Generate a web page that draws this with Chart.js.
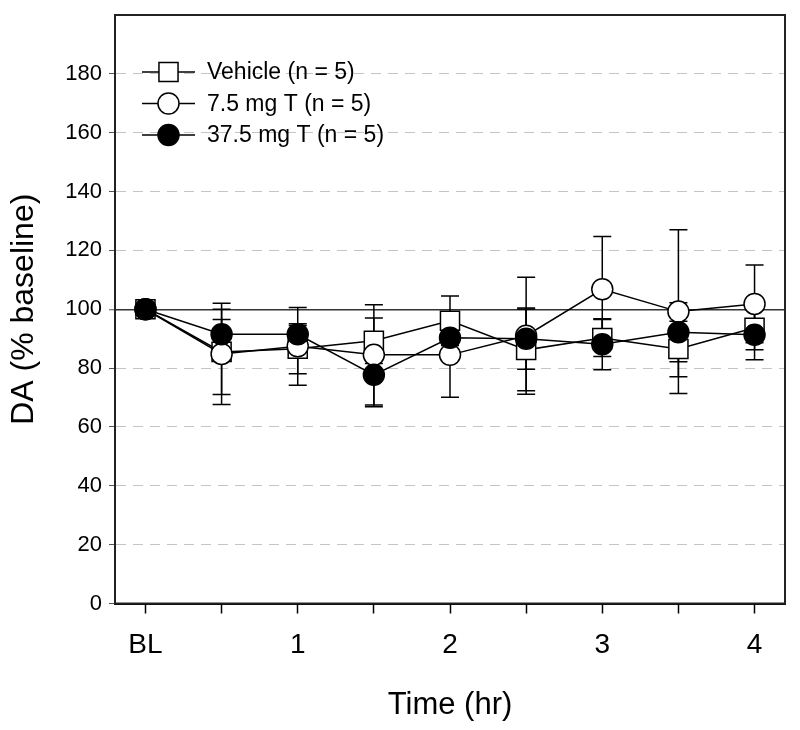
<!DOCTYPE html>
<html>
<head>
<meta charset="utf-8">
<script src="https://cdn.jsdelivr.net/npm/chart.js@4/dist/chart.umd.min.js"></script>
<style>
  html, body { margin: 0; padding: 0; background: #fff; }
</style>
</head>
<body>
<canvas id="chart" width="800" height="730"></canvas>
<script>
// half-hour steps, 0 = baseline
var times = [0, 1, 2, 3, 4, 5, 6, 7, 8];
var xTickVals = [0, 1, 2, 3, 4, 5, 6, 7, 8];
var xTickLabels = ['BL', '', '1', '', '2', '', '3', '', '4'];
var yTickVals = [0, 20, 40, 60, 80, 100, 120, 140, 160, 180, 200];
var yTickLabels = ['0', '20', '40', '60', '80', '100', '120', '140', '160', '180', ''];

var seriesNames = ['Vehicle (n = 5)', '7.5 mg T (n = 5)', '37.5 mg T (n = 5)'];
var vehicle = [100, 85.5, 86.6, 89.3, 96.1, 86.2, 90.2, 86.5, 93.7];
var vehicleSem = [0, 14.5, 8.5, 7.7, 8.4, 13.9, 6.3, 9.4, 7.5];
var lowDose = [100, 84.8, 87.4, 84.5, 84.5, 91, 106.8, 99.2, 101.8];
var lowDoseSem = [0, 17.2, 13.2, 17, 14.4, 19.9, 17.9, 27.8, 13.2];
var highDose = [100, 91.5, 91.5, 77.7, 90.3, 90, 88.1, 92.2, 91.3];
var highDoseSem = [0, 5, 3, 10.8, 5, 10.4, 8.7, 10, 8.5];

var FONT = "'Liberation Sans', Arial, sans-serif";
var sems = [vehicleSem, lowDoseSem, highDoseSem];

function pts(arr) {
  return arr.map(function(v, i) { return {x: times[i], y: v}; });
}

var styles = [
  {pointStyle: 'rect', radius: 13.5, fill: '#fff'},
  {pointStyle: 'circle', radius: 10.5, fill: '#fff'},
  {pointStyle: 'circle', radius: 10.5, fill: '#000'}
];

function makeSet(i, data, order) {
  return {
    label: seriesNames[i],
    data: pts(data),
    borderColor: '#000',
    borderWidth: 1.5,
    pointStyle: styles[i].pointStyle,
    pointRadius: styles[i].radius,
    pointHoverRadius: styles[i].radius,
    pointBackgroundColor: styles[i].fill,
    pointBorderColor: '#000',
    pointBorderWidth: 1.5,
    fill: false,
    tension: 0,
    order: order
  };
}

var errorBars = {
  id: 'errorBars',
  beforeDatasetsDraw: function(chart) {
    var ctx = chart.ctx;
    var xs = chart.scales.x, ys = chart.scales.y;
    ctx.save();
    ctx.strokeStyle = '#000';
    ctx.lineWidth = 1.5;
    chart.data.datasets.forEach(function(ds, d) {
      ds.data.forEach(function(p, i) {
        var s = sems[d][i];
        if (!s) return;
        var px = xs.getPixelForValue(p.x);
        var top = ys.getPixelForValue(p.y + s);
        var bot = ys.getPixelForValue(p.y - s);
        ctx.beginPath();
        ctx.moveTo(px, top); ctx.lineTo(px, bot);
        ctx.moveTo(px - 9, top); ctx.lineTo(px + 9, top);
        ctx.moveTo(px - 9, bot); ctx.lineTo(px + 9, bot);
        ctx.stroke();
      });
    });
    ctx.restore();
  }
};

var frameAndLegend = {
  id: 'frameAndLegend',
  afterDraw: function(chart) {
    var ctx = chart.ctx, a = chart.chartArea;
    ctx.save();
    ctx.strokeStyle = '#222';
    ctx.lineWidth = 2;
    ctx.strokeRect(a.left, a.top, a.right - a.left, a.bottom - a.top);

    // legend in the upper left of the plot
    var rows = [72, 103.5, 135];
    ctx.font = '23px ' + FONT;
    ctx.textBaseline = 'middle';
    ctx.textAlign = 'left';
    seriesNames.forEach(function(name, i) {
      var y = rows[i];
      ctx.strokeStyle = '#000';
      ctx.lineWidth = 1.5;
      ctx.beginPath();
      ctx.moveTo(142, y); ctx.lineTo(195, y);
      ctx.stroke();
      ctx.fillStyle = styles[i].fill;
      Chart.helpers.drawPoint(ctx, {
        pointStyle: styles[i].pointStyle,
        radius: styles[i].radius,
        rotation: 0,
        borderWidth: 1.5
      }, 168.5, y);
      ctx.fillStyle = '#000';
      ctx.fillText(name, 207, y + 1);
    });
    ctx.restore();
  }
};

function yVal(c) { return c.tick ? c.tick.value : null; }

new Chart(document.getElementById('chart'), {
  type: 'line',
  data: {
    datasets: [
      makeSet(0, vehicle, 3),
      makeSet(1, lowDose, 2),
      makeSet(2, highDose, 1)
    ]
  },
  options: {
    responsive: false,
    animation: false,
    layout: { padding: { top: 15, right: 13, left: 0, bottom: 0 } },
    plugins: {
      legend: { display: false },
      tooltip: { enabled: false }
    },
    scales: {
      x: {
        type: 'linear',
        min: -0.4,
        max: 8.4,
        afterBuildTicks: function(s) {
          s.ticks = xTickVals.map(function(v) { return {value: v}; });
        },
        afterFit: function(s) {
          s.height = 126.5;
          s.paddingLeft = 0; s.paddingRight = 0;
        },
        ticks: {
          autoSkip: false,
          maxRotation: 0,
          padding: 15,
          color: '#000',
          font: { family: FONT, size: 28 },
          callback: function(v, i) { return xTickLabels[i]; }
        },
        grid: {
          drawOnChartArea: false,
          drawTicks: true,
          tickLength: 10,
          tickColor: '#000',
          tickWidth: 1.5,
          tickBorderDash: []
        },
        border: { display: true, color: '#000', width: 2 },
        title: {
          display: true,
          text: 'Time (hr)',
          color: '#000',
          font: { family: FONT, size: 31, lineHeight: 1.2 },
          padding: { top: 0, bottom: 6 }
        }
      },
      y: {
        min: 0,
        max: 200,
        afterBuildTicks: function(s) {
          s.ticks = yTickVals.map(function(v) { return {value: v}; });
        },
        afterFit: function(s) {
          s.width = 115;
          s.paddingTop = 0; s.paddingBottom = 0;
        },
        ticks: {
          autoSkip: false,
          padding: 7,
          color: '#000',
          font: { family: FONT, size: 22 },
          callback: function(v, i) { return yTickLabels[i]; }
        },
        grid: {
          drawTicks: true,
          tickLength: 6,
          tickBorderDash: [],
          color: function(c) {
            var v = yVal(c);
            if (v === 0 || v === 200) return 'rgba(0,0,0,0)';
            if (v === 100) return '#333';
            return '#c4c4c4';
          },
          lineWidth: function(c) { return yVal(c) === 100 ? 1.5 : 1; },
          tickColor: function(c) { return yVal(c) === 200 ? 'rgba(0,0,0,0)' : '#555'; },
          tickWidth: 1
        },
        border: {
          display: true,
          color: '#000',
          width: 2,
          dash: function(c) {
            var v = yVal(c);
            return (v === null || v === 100) ? [] : [10, 7];
          }
        },
        title: {
          display: true,
          text: 'DA (% baseline)',
          color: '#000',
          font: { family: FONT, size: 32, lineHeight: 1.2 },
          padding: { top: 5, bottom: 0 }
        }
      }
    }
  },
  plugins: [errorBars, frameAndLegend]
});
</script>
</body>
</html>
